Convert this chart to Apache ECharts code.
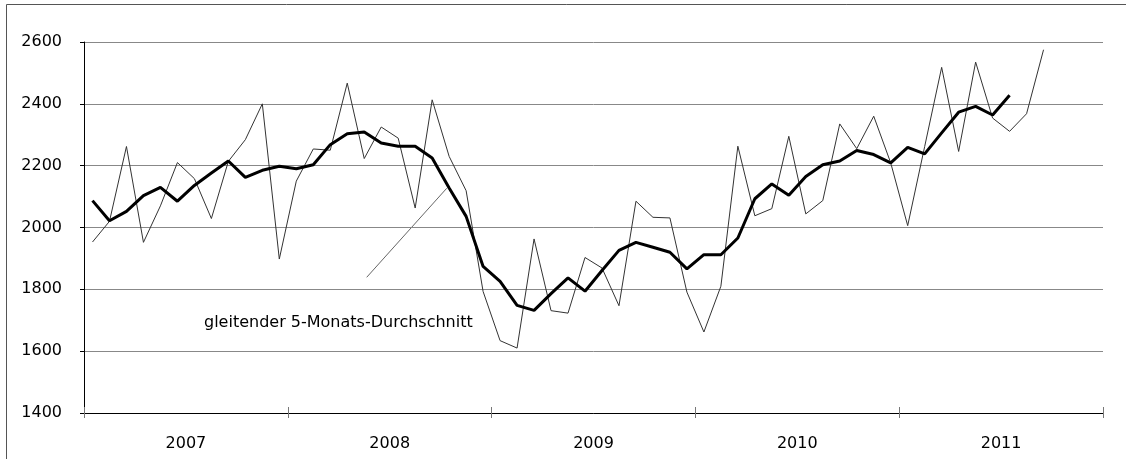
<!DOCTYPE html>
<html>
<head>
<meta charset="utf-8">
<script src="https://cdn.jsdelivr.net/npm/echarts@6/dist/echarts.min.js"></script>
<style>
  html, body { margin: 0; padding: 0; background: #fff; }
  #chart { width: 1126px; height: 459px; }
</style>
</head>
<body>
<div id="chart"></div>
<script>
// Jahre der x-Achse, je 12 Monate
var years = ['2007', '2008', '2009', '2010', '2011'];

// Monatswerte (duenne Linie), Jan 2007 bis Sep 2011
var monthly = [
  1953, 2020, 2262, 1952, 2070, 2210, 2158, 2029, 2214, 2284, 2400, 1898,
  2150, 2254, 2250, 2467, 2223, 2325, 2289, 2063, 2413, 2230, 2119, 1793,
  1634, 1610, 1963, 1731, 1723, 1903, 1869, 1747, 2085, 2033, 2031, 1791,
  1662, 1810, 2263, 2038, 2061, 2295, 2044, 2087, 2335, 2255, 2360, 2209,
  2006, 2262, 2518, 2246, 2535, 2354, 2311, 2368, 2575
];

// gleitender 5-Monats-Durchschnitt (dicke Linie), Jan 2007 bis Jul 2011
var movingAvg = [
  2087, 2022, 2052, 2103, 2130, 2085, 2136, 2176, 2215, 2162, 2185, 2198,
  2190, 2203, 2268, 2303, 2309, 2273, 2263, 2263, 2225, 2128, 2036, 1874,
  1826, 1748, 1732, 1786, 1837, 1794, 1861, 1926, 1952, 1936, 1920, 1866,
  1912, 1912, 1966, 2093, 2141, 2104, 2165, 2203, 2215, 2249, 2236, 2209,
  2259, 2238, 2306, 2373, 2392, 2364, 2428
];

var yTicks = { min: 1400, max: 2600, interval: 200 };
var annotation = 'gleitender 5-Monats-Durchschnitt';

var months = [];
years.forEach(function (y) {
  for (var m = 1; m <= 12; m++) months.push(y + '-' + (m < 10 ? '0' + m : m));
});

var font = 'DejaVu Sans';
var chart = echarts.init(document.getElementById('chart'));

chart.setOption({
  animation: false,
  backgroundColor: '#fff',
  grid: { left: 84, right: 23, top: 42, bottom: 46 },
  xAxis: [
    {
      type: 'category',
      data: months,
      boundaryGap: true,
      position: 'bottom',
      axisLine: { lineStyle: { color: '#000', width: 1 } },
      axisTick: {
        show: true,
        length: 5,
        interval: function (i) { return i % 12 === 0; },
        lineStyle: { color: '#777' }
      },
      axisLabel: { show: false },
      splitLine: { show: false }
    },
    {
      type: 'category',
      data: years,
      boundaryGap: true,
      position: 'bottom',
      axisLine: { show: false },
      axisTick: { show: true, inside: true, length: 6, lineStyle: { color: '#777' } },
      axisLabel: { color: '#000', fontFamily: font, fontSize: 16, margin: 23 },
      splitLine: { show: false }
    }
  ],
  yAxis: {
    type: 'value',
    min: yTicks.min,
    max: yTicks.max,
    interval: yTicks.interval,
    axisLine: { show: true, lineStyle: { color: '#000', width: 1 } },
    axisTick: { show: true, length: 4, lineStyle: { color: '#000' } },
    axisLabel: {
      color: '#000', fontFamily: font, fontSize: 16, margin: 22,
      formatter: function (v) { return String(v); }
    },
    splitLine: { lineStyle: { color: '#888', width: 1 } }
  },
  series: [
    {
      type: 'line',
      data: monthly,
      xAxisIndex: 0,
      symbol: 'none',
      lineStyle: { color: '#333', width: 1 },
      z: 2
    },
    {
      type: 'line',
      data: movingAvg,
      xAxisIndex: 0,
      symbol: 'none',
      lineStyle: { color: '#000', width: 3 },
      z: 3
    }
  ],
  graphic: [
    {
      type: 'rect',
      shape: { x: 6.5, y: 4.5, width: 1200, height: 500 },
      style: { fill: 'none', stroke: '#555', lineWidth: 1 },
      silent: true
    },
    {
      type: 'line',
      shape: { x1: 366.7, y1: 277.3, x2: 446.7, y2: 188.3 },
      style: { stroke: '#666', lineWidth: 1 },
      silent: true
    },
    {
      type: 'text',
      left: 204,
      top: 315,
      style: { text: annotation, fill: '#000', font: '16px "DejaVu Sans"' },
      silent: true
    }
  ]
});
</script>
</body>
</html>
